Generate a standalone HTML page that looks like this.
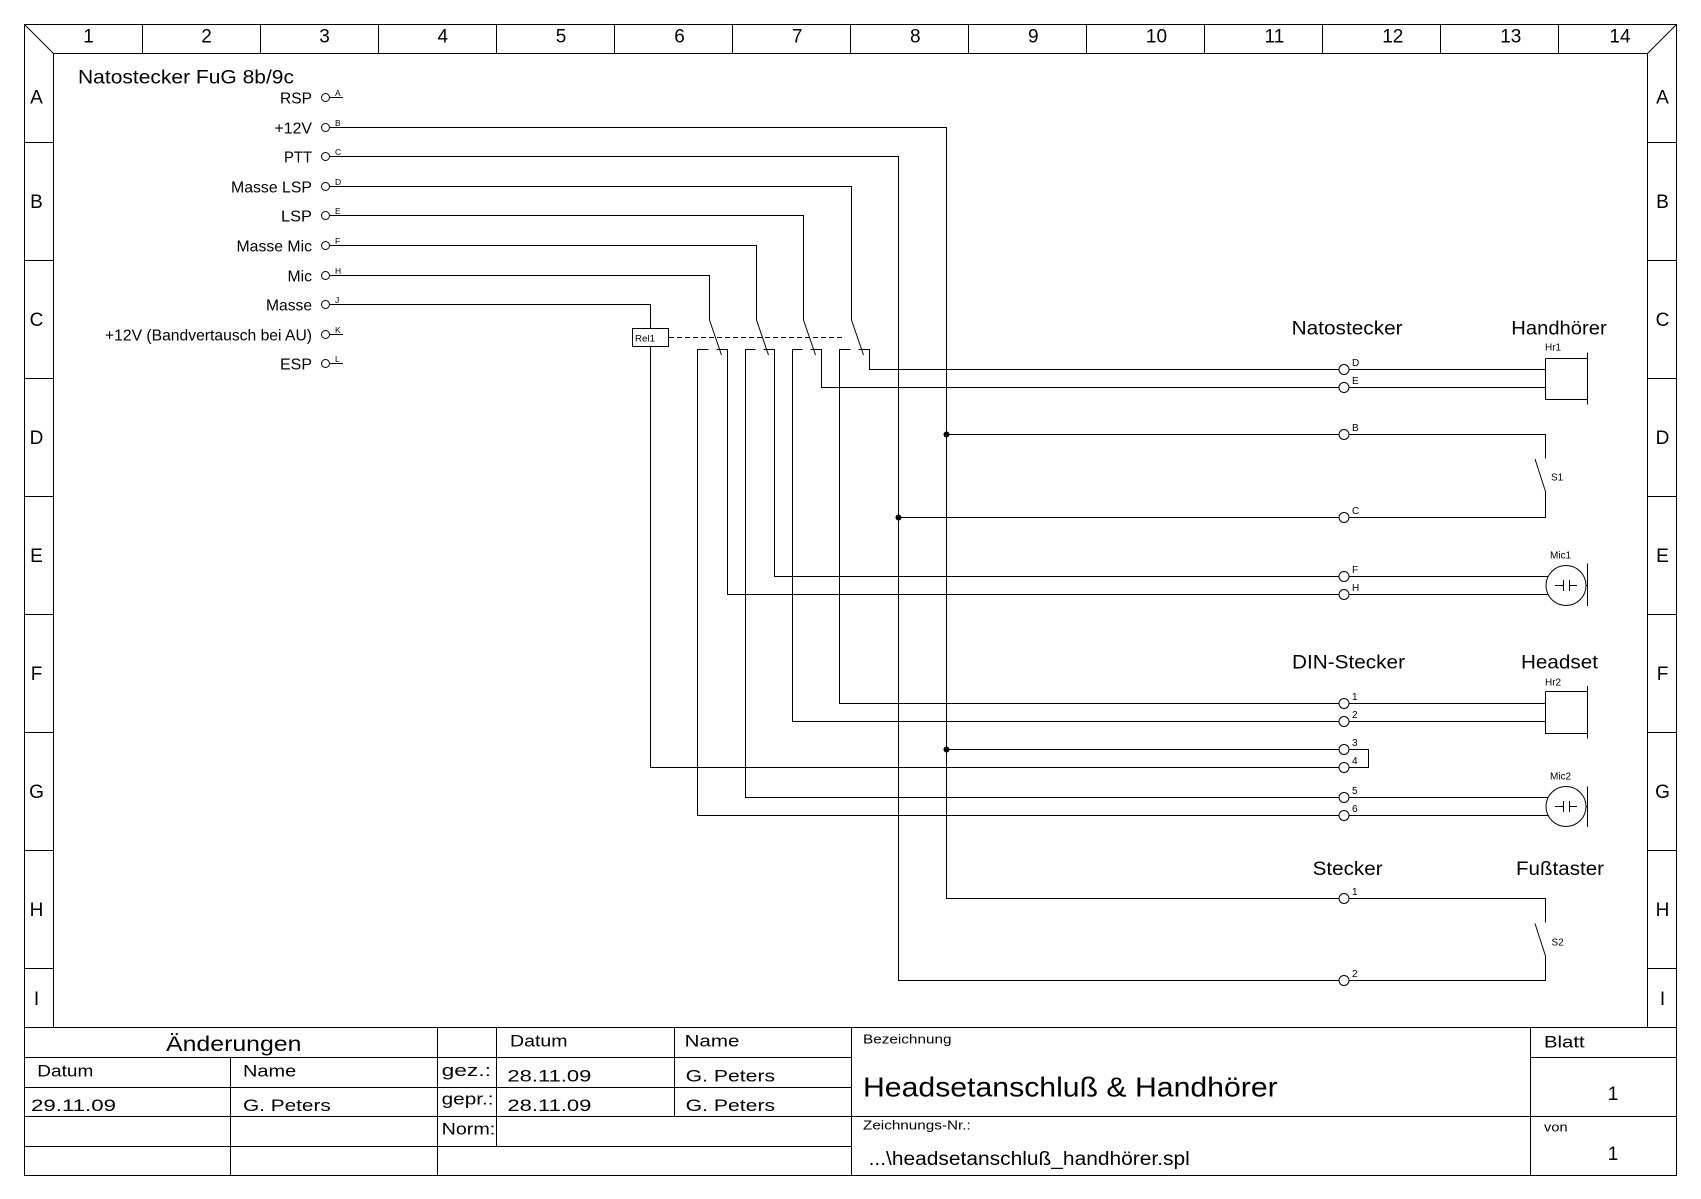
<!DOCTYPE html>
<html>
<head>
<meta charset="utf-8">
<style>
html,body{margin:0;padding:0;background:#fff;width:1701px;height:1199px;overflow:hidden}
svg{display:block}
text{font-family:"Liberation Sans",Arial,sans-serif;fill:#000}
</style>
</head>
<body>
<svg width="1701" height="1199" viewBox="0 0 1701 1199" xmlns="http://www.w3.org/2000/svg">
<rect x="0" y="0" width="1701" height="1199" fill="#fff"/>

<!-- FRAME -->
<g stroke="#000" stroke-width="1" fill="none" shape-rendering="crispEdges">
  <path d="M24.5 24.5H1676.5V1175.5H24.5Z"/>
  <path d="M53.5 53.5H1647.5"/>
  <path d="M53.5 53.5V1027.5"/>
  <path d="M1647.5 53.5V1027.5"/>
  <path d="M142.5 24.5V53.5M260.5 24.5V53.5M378.5 24.5V53.5M496.5 24.5V53.5M614.5 24.5V53.5M732.5 24.5V53.5M850.5 24.5V53.5M968.5 24.5V53.5M1086.5 24.5V53.5M1204.5 24.5V53.5M1322.5 24.5V53.5M1440.5 24.5V53.5M1558.5 24.5V53.5"/>
  <path d="M24.5 142.5H53.5M24.5 260.5H53.5M24.5 378.5H53.5M24.5 496.5H53.5M24.5 614.5H53.5M24.5 732.5H53.5M24.5 850.5H53.5M24.5 968.5H53.5"/>
  <path d="M1647.5 142.5H1676.5M1647.5 260.5H1676.5M1647.5 378.5H1676.5M1647.5 496.5H1676.5M1647.5 614.5H1676.5M1647.5 732.5H1676.5M1647.5 850.5H1676.5M1647.5 968.5H1676.5"/>
  <path d="M24.5 1027.5H1676.5"/>
  <!-- title block -->
  <path d="M24.5 1057.5H851.5M24.5 1087.5H851.5M24.5 1116.5H1676.5M24.5 1146.5H851.5M1530.5 1057.5H1676.5"/>
  <path d="M230.5 1057.5V1175.5M437.5 1027.5V1175.5M496.5 1027.5V1146.5M674.5 1027.5V1116.5M851.5 1027.5V1175.5M1530.5 1027.5V1175.5"/>
</g>
<g stroke="#000" stroke-width="1" fill="none">
  <path d="M24.5 24.5L53.5 53.5"/>
  <path d="M1676.5 24.5L1647.5 53.5"/>
</g>

<!-- column numbers -->
<g font-size="19" text-anchor="middle">
  <text x="88.5" y="42.5">1</text>
  <text x="206.6" y="42.5">2</text>
  <text x="324.6" y="42.5">3</text>
  <text x="442.8" y="42.5">4</text>
  <text x="561" y="42.5">5</text>
  <text x="679.5" y="42.5">6</text>
  <text x="797.2" y="42.5">7</text>
  <text x="915.3" y="42.5">8</text>
  <text x="1033.3" y="42.5">9</text>
  <text x="1156.5" y="42.5">10</text>
  <text x="1274.4" y="42.5">11</text>
  <text x="1392.8" y="42.5">12</text>
  <text x="1510.8" y="42.5">13</text>
  <text x="1620" y="42.5">14</text>
</g>
<!-- row letters -->
<g font-size="19" text-anchor="middle">
  <text x="36.5" y="103.5">A</text><text x="1662.5" y="103.5">A</text>
  <text x="36.5" y="208">B</text><text x="1662.5" y="208">B</text>
  <text x="36.5" y="326">C</text><text x="1662.5" y="326">C</text>
  <text x="36.5" y="444">D</text><text x="1662.5" y="444">D</text>
  <text x="36.5" y="562">E</text><text x="1662.5" y="562">E</text>
  <text x="36.5" y="680">F</text><text x="1662.5" y="680">F</text>
  <text x="36.5" y="798">G</text><text x="1662.5" y="798">G</text>
  <text x="36.5" y="916">H</text><text x="1662.5" y="916">H</text>
  <text x="36.5" y="1005">I</text><text x="1662.5" y="1005">I</text>
</g>

<!-- TITLE BLOCK TEXT -->
<text x="166" y="1051" font-size="21" textLength="135.5" lengthAdjust="spacingAndGlyphs">Änderungen</text>
<g font-size="17">
  <text x="510" y="1046.7" textLength="57.5" lengthAdjust="spacingAndGlyphs">Datum</text>
  <text x="684.6" y="1046.7" textLength="54.8" lengthAdjust="spacingAndGlyphs">Name</text>
  <text x="37.3" y="1076.7" textLength="56" lengthAdjust="spacingAndGlyphs">Datum</text>
  <text x="243" y="1076.7" textLength="53.2" lengthAdjust="spacingAndGlyphs">Name</text>
  <text x="441.6" y="1076" textLength="49.4" lengthAdjust="spacingAndGlyphs">gez.:</text>
  <text x="507.4" y="1081.7" textLength="84" lengthAdjust="spacingAndGlyphs">28.11.09</text>
  <text x="685.7" y="1081.7" textLength="89.4" lengthAdjust="spacingAndGlyphs">G. Peters</text>
  <text x="31" y="1111" textLength="85" lengthAdjust="spacingAndGlyphs">29.11.09</text>
  <text x="243" y="1111" textLength="87.8" lengthAdjust="spacingAndGlyphs">G. Peters</text>
  <text x="441.6" y="1104.5" textLength="52" lengthAdjust="spacingAndGlyphs">gepr.:</text>
  <text x="507.4" y="1111" textLength="84" lengthAdjust="spacingAndGlyphs">28.11.09</text>
  <text x="685.7" y="1111" textLength="89.4" lengthAdjust="spacingAndGlyphs">G. Peters</text>
  <text x="441.6" y="1134.3" textLength="53.7" lengthAdjust="spacingAndGlyphs">Norm:</text>
  <text x="1544" y="1047.3" textLength="40.6" lengthAdjust="spacingAndGlyphs">Blatt</text>
</g>
<text x="863" y="1043.3" font-size="13" textLength="88.5" lengthAdjust="spacingAndGlyphs">Bezeichnung</text>
<text x="863" y="1096.7" font-size="28" textLength="414.7" lengthAdjust="spacingAndGlyphs">Headsetanschluß &amp; Handhörer</text>
<text x="863" y="1129.3" font-size="13" textLength="107.7" lengthAdjust="spacingAndGlyphs">Zeichnungs-Nr.:</text>
<text x="868.6" y="1165" font-size="19" textLength="321.2" lengthAdjust="spacingAndGlyphs">...\headsetanschluß_handhörer.spl</text>
<text x="1544" y="1131.7" font-size="13" textLength="23.6" lengthAdjust="spacingAndGlyphs">von</text>
<text x="1613" y="1100" font-size="19" text-anchor="middle">1</text>
<text x="1613" y="1160" font-size="19" text-anchor="middle">1</text>

<!-- LEFT CONNECTOR -->
<text x="78" y="83.3" font-size="19" textLength="216" lengthAdjust="spacingAndGlyphs">Natostecker FuG 8b/9c</text>
<g font-size="16">
  <text x="280" y="103.5" textLength="32" lengthAdjust="spacingAndGlyphs">RSP</text>
  <text x="274.5" y="133.5" textLength="37.5" lengthAdjust="spacingAndGlyphs">+12V</text>
  <text x="284" y="162.5" textLength="28" lengthAdjust="spacingAndGlyphs">PTT</text>
  <text x="231" y="192.5" textLength="81" lengthAdjust="spacingAndGlyphs">Masse LSP</text>
  <text x="281" y="221.5" textLength="31" lengthAdjust="spacingAndGlyphs">LSP</text>
  <text x="236.5" y="251.5" textLength="75.5" lengthAdjust="spacingAndGlyphs">Masse Mic</text>
  <text x="287.5" y="281.5" textLength="24.5" lengthAdjust="spacingAndGlyphs">Mic</text>
  <text x="266" y="310.5" textLength="46" lengthAdjust="spacingAndGlyphs">Masse</text>
  <text x="105" y="340.5" textLength="207" lengthAdjust="spacingAndGlyphs">+12V (Bandvertausch bei AU)</text>
  <text x="280" y="369.5" textLength="32" lengthAdjust="spacingAndGlyphs">ESP</text>
</g>
<g font-size="8.5">
  <text x="335" y="96">A</text>
  <text x="335" y="126">B</text>
  <text x="335" y="155">C</text>
  <text x="335" y="185">D</text>
  <text x="335" y="214">E</text>
  <text x="335" y="244">F</text>
  <text x="335" y="274">H</text>
  <text x="335" y="303">J</text>
  <text x="335" y="333">K</text>
  <text x="335" y="362">L</text>
</g>
<g stroke="#000" stroke-width="1" fill="#fff">
  <circle cx="325.5" cy="97.5" r="4"/>
  <circle cx="325.5" cy="127.5" r="4"/>
  <circle cx="325.5" cy="156.5" r="4"/>
  <circle cx="325.5" cy="186.5" r="4"/>
  <circle cx="325.5" cy="215.5" r="4"/>
  <circle cx="325.5" cy="245.5" r="4"/>
  <circle cx="325.5" cy="275.5" r="4"/>
  <circle cx="325.5" cy="304.5" r="4"/>
  <circle cx="325.5" cy="334.5" r="4"/>
  <circle cx="325.5" cy="363.5" r="4"/>
</g>

<!-- WIRES -->
<g stroke="#000" stroke-width="1" fill="none" shape-rendering="crispEdges">
  <path d="M329.5 97.5H343M329.5 334.5H343M329.5 363.5H343"/>
  <path d="M329.5 127.5H946.5V898.5H1339"/>
  <path d="M329.5 156.5H898.5V980.5H1339"/>
  <path d="M329.5 186.5H851.5V320"/>
  <path d="M329.5 215.5H803.5V320"/>
  <path d="M329.5 245.5H756.5V320"/>
  <path d="M329.5 275.5H709.5V320"/>
  <path d="M329.5 304.5H650.5V328.5"/>
  <path d="M632.5 328.5H668.5V346.5H632.5Z"/>
  <path d="M650.5 346.5V767.5H1339"/>
  <!-- contacts -->
  <path d="M1339 815.5H697.5V349.5H708.5"/>
  <path d="M716.5 349.5H727.5V594.5H1339"/>
  <path d="M1339 797.5H745.5V349.5H755.5"/>
  <path d="M763.5 349.5H774.5V576.5H1339"/>
  <path d="M1339 721.5H792.5V349.5H802.5"/>
  <path d="M810.5 349.5H821.5V387.5H1339"/>
  <path d="M1339 703.5H839.5V349.5H850.5"/>
  <path d="M858.5 349.5H869.5V369.5H1339"/>
  <path d="M946.5 434.5H1339"/>
  <path d="M898.5 517.5H1339"/>
  <path d="M946.5 749.5H1339"/>
  <!-- right side -->
  <path d="M1349 369.5H1545.5M1349 387.5H1545.5"/>
  <path d="M1545.5 358.5H1587.5M1545.5 358.5V399.5H1587.5M1587.5 352.5V404.5"/>
  <path d="M1349 434.5H1545.5V458.5"/>
  <path d="M1545.5 491.5V517.5H1349"/>
  <path d="M1349 576.5H1548M1349 594.5H1548"/>
  <path d="M1555 585.5H1563.5M1563.5 580V591M1569.5 580V591M1569.5 585.5H1577"/>
  <path d="M1587.5 563.5V606M1586 585.5H1587.5"/>
  <path d="M1349 703.5H1545.5M1349 721.5H1545.5"/>
  <path d="M1545.5 691.5H1587.5M1545.5 691.5V733.5H1587.5M1587.5 686V738.5"/>
  <path d="M1349 749.5H1368.5V767.5H1349"/>
  <path d="M1349 797.5H1548M1349 815.5H1548"/>
  <path d="M1555 806.5H1563.5M1563.5 801V812M1569.5 801V812M1569.5 806.5H1577"/>
  <path d="M1587.5 786.5V827M1586 806.5H1587.5"/>
  <path d="M1349 898.5H1545.5V922.5"/>
  <path d="M1545.5 956V980.5H1349"/>
</g>
<g stroke="#000" stroke-width="1" fill="none">
  <path d="M709.5 320L721.5 355M756.5 320L768.5 355M803.5 320L815.5 355M851.5 320L863.5 355"/>
  <path d="M669 337.5H843" stroke-dasharray="5 3"/>
  <path d="M1535 459L1545.5 491.5"/>
  <path d="M1535 923.5L1545.5 956"/>
  <circle cx="1566" cy="585.5" r="20"/>
  <circle cx="1566" cy="806.5" r="20"/>
</g>
<g stroke="#000" stroke-width="1" fill="#fff">
  <circle cx="1344" cy="369.5" r="5"/>
  <circle cx="1344" cy="387.5" r="5"/>
  <circle cx="1344" cy="434.5" r="5"/>
  <circle cx="1344" cy="517.5" r="5"/>
  <circle cx="1344" cy="576.5" r="5"/>
  <circle cx="1344" cy="594.5" r="5"/>
  <circle cx="1344" cy="703.5" r="5"/>
  <circle cx="1344" cy="721.5" r="5"/>
  <circle cx="1344" cy="749.5" r="5"/>
  <circle cx="1344" cy="767.5" r="5"/>
  <circle cx="1344" cy="797.5" r="5"/>
  <circle cx="1344" cy="815.5" r="5"/>
  <circle cx="1344" cy="898.5" r="5"/>
  <circle cx="1344" cy="980.5" r="5"/>
</g>
<g fill="#000">
  <circle cx="946.5" cy="434.5" r="3"/>
  <circle cx="898.5" cy="517.5" r="3"/>
  <circle cx="946.5" cy="749.5" r="3"/>
</g>

<!-- right pin letters -->
<g font-size="10">
  <text x="1352" y="366">D</text>
  <text x="1352" y="384">E</text>
  <text x="1352" y="431">B</text>
  <text x="1352" y="514">C</text>
  <text x="1352" y="573">F</text>
  <text x="1352" y="591">H</text>
  <text x="1352" y="700">1</text>
  <text x="1352" y="718">2</text>
  <text x="1352" y="746">3</text>
  <text x="1352" y="764">4</text>
  <text x="1352" y="794">5</text>
  <text x="1352" y="812">6</text>
  <text x="1352" y="895">1</text>
  <text x="1352" y="977">2</text>
  <text x="1545" y="350.7">Hr1</text>
  <text x="1551" y="480.5">S1</text>
  <text x="1550" y="558.5">Mic1</text>
  <text x="1545" y="685.5">Hr2</text>
  <text x="1550" y="779.5">Mic2</text>
  <text x="1551.5" y="945.5">S2</text>
</g>
<text x="635" y="341.7" font-size="9" textLength="20" lengthAdjust="spacingAndGlyphs">Rel1</text>

<!-- section labels -->
<g font-size="19">
  <text x="1291.6" y="334.3" textLength="111" lengthAdjust="spacingAndGlyphs">Natostecker</text>
  <text x="1511.3" y="334.3" textLength="95.4" lengthAdjust="spacingAndGlyphs">Handhörer</text>
  <text x="1292" y="668.3" textLength="113" lengthAdjust="spacingAndGlyphs">DIN-Stecker</text>
  <text x="1521" y="668.3" textLength="77" lengthAdjust="spacingAndGlyphs">Headset</text>
  <text x="1312.6" y="875" textLength="70" lengthAdjust="spacingAndGlyphs">Stecker</text>
  <text x="1516" y="875" textLength="88" lengthAdjust="spacingAndGlyphs">Fußtaster</text>
</g>
</svg>
</body>
</html>
